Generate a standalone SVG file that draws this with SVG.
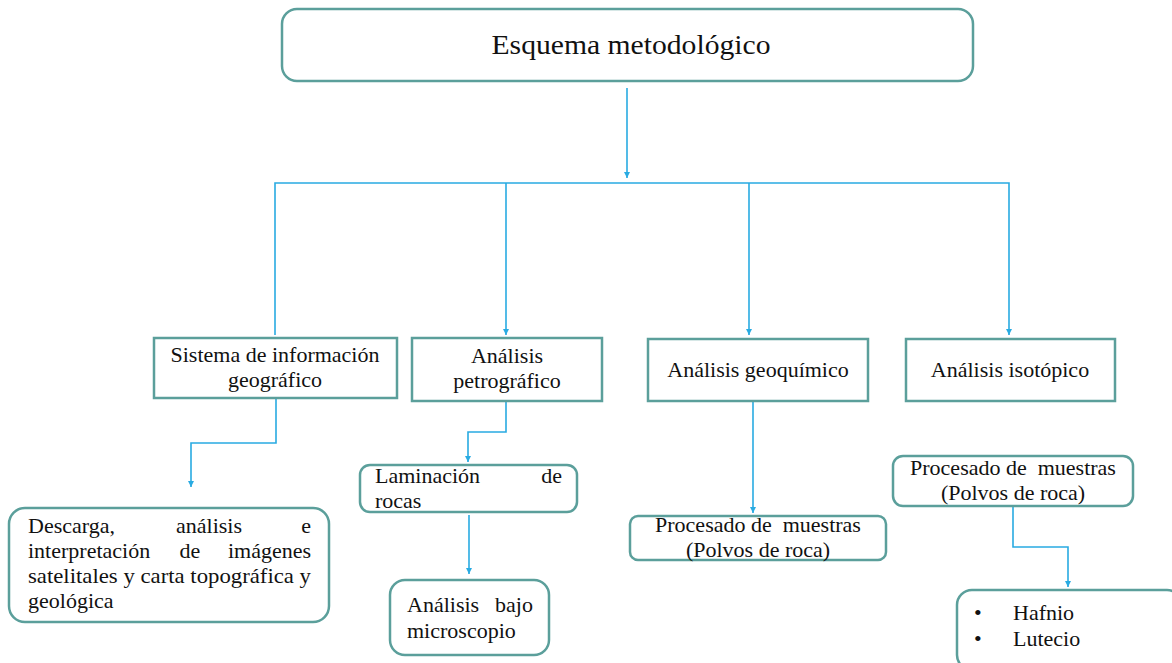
<svg xmlns="http://www.w3.org/2000/svg" width="1172" height="663" viewBox="0 0 1172 663" font-family="'Liberation Serif', 'DejaVu Serif', serif">
<defs>
<style>
.box{fill:#ffffff;stroke:#5b9f9b;stroke-width:2.5}
.con{fill:none;stroke:#29abe2;stroke-width:1.6}
.t{font-family:'Liberation Serif','DejaVu Serif',serif;fill:#111;font-size:22px}
.c{text-anchor:middle}
.e{text-anchor:end}
</style>
<marker id="ah" viewBox="0 0 10 10" refX="10" refY="5" markerWidth="6" markerHeight="6" markerUnits="userSpaceOnUse" orient="auto">
<path d="M0,0 L10,5 L0,10 z" fill="#29abe2"/>
</marker>
</defs>
<rect width="1172" height="663" fill="#ffffff"/>
<g id="connectors">
<path class="con" d="M627,88 V178" marker-end="url(#ah)"/>
<path class="con" d="M275,335 V183 H1009 V335" marker-end="url(#ah)"/>
<path class="con" d="M506,183 V335" marker-end="url(#ah)"/>
<path class="con" d="M749,183 V335" marker-end="url(#ah)"/>
<path class="con" d="M276,398 V443 H191 V487" marker-end="url(#ah)"/>
<path class="con" d="M506,401 V432 H468 V462" marker-end="url(#ah)"/>
<path class="con" d="M469,515 V574" marker-end="url(#ah)"/>
<path class="con" d="M753,401 V513" marker-end="url(#ah)"/>
<path class="con" d="M1013,506 V547 H1068 V587" marker-end="url(#ah)"/>
</g>
<g id="n-title">
<rect class="box" x="282" y="9" width="691" height="72" rx="15"/>
<text class="t c" x="631" y="54" style="font-size:28px" textLength="279" lengthAdjust="spacingAndGlyphs">Esquema metodológico</text>
</g>
<g id="n-sig">
<rect class="box" x="154" y="338" width="243" height="60"/>
<text class="t c" x="275" y="362">Sistema de información</text>
<text class="t c" x="275" y="387">geográfico</text>
</g>
<g id="n-petro">
<rect class="box" x="412" y="338" width="190" height="63"/>
<text class="t c" x="507" y="363">Análisis</text>
<text class="t c" x="507" y="388">petrográfico</text>
</g>
<g id="n-geoq">
<rect class="box" x="648" y="339" width="220" height="62"/>
<text class="t c" x="758" y="377">Análisis geoquímico</text>
</g>
<g id="n-iso">
<rect class="box" x="906" y="339" width="209" height="62"/>
<text class="t c" x="1010" y="377">Análisis isotópico</text>
</g>
<g id="n-descarga">
<rect class="box" x="9" y="508" width="320" height="114" rx="16"/>
<text class="t" x="28" y="533">Descarga,</text>
<text class="t c" x="209" y="533">análisis</text>
<text class="t e" x="311" y="533">e</text>
<text class="t" x="28" y="558">interpretación</text>
<text class="t c" x="190" y="558">de</text>
<text class="t e" x="311" y="558">imágenes</text>
<text class="t" x="28" y="583" textLength="283" lengthAdjust="spacingAndGlyphs">satelitales y carta topográfica y</text>
<text class="t" x="28" y="608">geológica</text>
</g>
<g id="n-laminacion">
<rect class="box" x="360" y="465" width="217" height="47" rx="10"/>
<text class="t" x="375" y="483">Laminación</text>
<text class="t e" x="562" y="483">de</text>
<text class="t" x="375" y="508">rocas</text>
</g>
<g id="n-microscopio">
<rect class="box" x="390" y="580" width="159" height="75" rx="15"/>
<text class="t" x="407" y="612">Análisis</text>
<text class="t e" x="533" y="612">bajo</text>
<text class="t" x="407" y="638">microscopio</text>
</g>
<g id="n-proc1">
<rect class="box" x="630" y="516" width="256" height="44" rx="8"/>
<text class="t c" x="758" y="532" xml:space="preserve">Procesado de  muestras</text>
<text class="t c" x="758" y="557">(Polvos de roca)</text>
</g>
<g id="n-proc2">
<rect class="box" x="893" y="456" width="240" height="50" rx="10"/>
<text class="t c" x="1013" y="475" xml:space="preserve">Procesado de  muestras</text>
<text class="t c" x="1013" y="500">(Polvos de roca)</text>
</g>
<g id="n-isotopos">
<rect class="box" x="957" y="590" width="225" height="80" rx="15"/>
<text class="t" x="974" y="620">•</text>
<text class="t" x="1013" y="620">Hafnio</text>
<text class="t" x="974" y="646">•</text>
<text class="t" x="1013" y="646">Lutecio</text>
</g>
</svg>
